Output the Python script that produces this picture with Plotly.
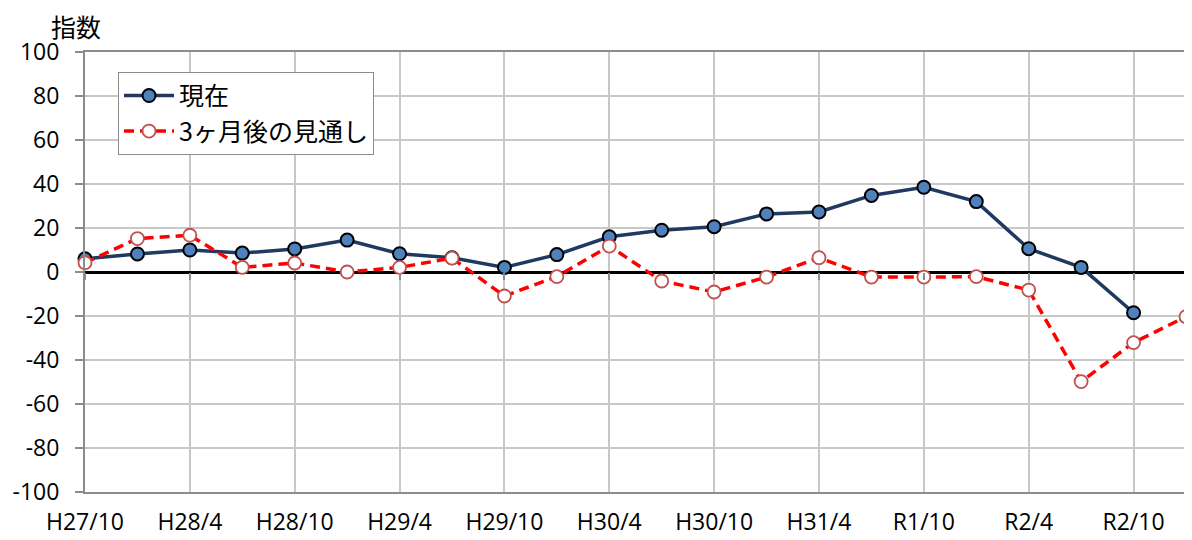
import plotly.graph_objects as go

categories = ["H27/10", "H28/1", "H28/4", "H28/7", "H28/10", "H29/1", "H29/4", "H29/7",
              "H29/10", "H30/1", "H30/4", "H30/7", "H30/10", "H31/1", "H31/4", "R1/7",
              "R1/10", "R2/1", "R2/4", "R2/7", "R2/10", "R3/1"]
current = [6, 8.2, 10, 8.6, 10.5, 14.5, 8.3, 6.5, 2.1, 7.9, 16, 19, 20.6, 26.4, 27.3,
           34.8, 38.5, 32, 10.6, 2.1, -18.5, None]
outlook = [4.2, 15.2, 16.7, 2.1, 4.1, 0, 2.1, 6.3, -10.9, -2.1, 11.8, -4.1, -9.1, -2.3,
           6.5, -2.3, -2.3, -2.1, -8.2, -49.8, -32.1, -20.3]
tick_labels = categories[::2]
y_ticks = list(range(-100, 101, 20))
y_tick_text = [str(v) for v in y_ticks]

JP_FONT = "Noto Sans CJK JP"
NUM_FONT = "Open Sans"
FS = 23

# the page body adds an 8px offset; the figure is sized so the plot area lands at 85..1186 x 52..492
fig = go.Figure()
fig.add_trace(go.Scatter(
    x=categories, y=current, name="現在", mode="lines+markers",
    line=dict(color="#1F3A60", width=3.5),
    marker=dict(size=13, color="#4F81BD", line=dict(color="#000000", width=2)),
    cliponaxis=False, legendgroup="a"))
fig.add_trace(go.Scatter(
    x=categories, y=outlook, name="3ヶ月後の見通し", mode="lines+markers",
    line=dict(color="#FF0000", width=3.5, dash="10px,6px"),
    marker=dict(size=13, color="#FFFFFF", line=dict(color="#C0504D", width=1.8)),
    cliponaxis=False, legendgroup="b"))
# carrier for the tick marks on the zero line
fig.add_trace(go.Scatter(x=categories, y=current, xaxis="x2", mode="none",
                         showlegend=False, hoverinfo="skip"))

fig.update_layout(
    width=1184, height=532,
    margin=dict(l=77, r=6, t=44, b=48),
    paper_bgcolor="white", plot_bgcolor="white",
    font=dict(family=JP_FONT, size=FS, color="#000000"),
    showlegend=True,
    legend=dict(x=0.03, y=0.955, xanchor="left", yanchor="top",
                bgcolor="white", bordercolor="#8C8C8C", borderwidth=1,
                font=dict(size=25, family=JP_FONT), tracegroupgap=0, itemwidth=50),
    xaxis=dict(type="category", range=[0, len(categories) - 1],
               categoryorder="array", categoryarray=categories,
               tickmode="array", tickvals=tick_labels, ticktext=tick_labels,
               showgrid=True, gridcolor="#C8C8C8", gridwidth=1.5,
               showline=True, linecolor="#8C8C8C", linewidth=2, mirror=True,
               ticks="", ticklabelstandoff=8, zeroline=False, automargin=False,
               tickfont=dict(size=FS, family=NUM_FONT)),
    xaxis2=dict(type="category", overlaying="x", anchor="free", position=0.5,
                range=[0, len(categories) - 1],
                categoryorder="array", categoryarray=categories,
                tickmode="array", tickvals=tick_labels, showticklabels=False,
                ticks="outside", ticklen=7, tickcolor="#8C8C8C", tickwidth=1.5,
                showgrid=False, showline=False, zeroline=False, automargin=False),
    yaxis=dict(range=[-100, 100], tickmode="array", tickvals=y_ticks, ticktext=y_tick_text,
               showgrid=True, gridcolor="#C8C8C8", gridwidth=1.5,
               showline=True, linecolor="#8C8C8C", linewidth=2, mirror=True,
               ticks="outside", ticklen=8, tickcolor="#8C8C8C", tickwidth=1.5,
               zeroline=True, zerolinecolor="#000000", zerolinewidth=3,
               ticklabelstandoff=11, automargin=False,
               tickfont=dict(size=FS, family=NUM_FONT)),
    annotations=[dict(text="指数", xref="paper", yref="paper",
                      x=(49 - 85) / 1101, y=(492 - 26) / 440,
                      xanchor="left", yanchor="middle", showarrow=False,
                      font=dict(size=25, family=JP_FONT))],
)

fig.write_html("out.html")
